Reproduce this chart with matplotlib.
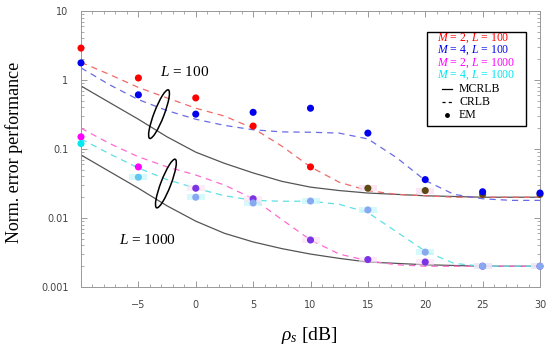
#!/usr/bin/env python3
"""
Normalized error performance vs SNR: EM points against MCRLB / CRLB curves.
"""

import matplotlib
matplotlib.use("Agg")
import matplotlib.pyplot as plt
from matplotlib.patches import Ellipse, Rectangle
from matplotlib.ticker import FixedLocator, MultipleLocator, NullFormatter
from matplotlib.transforms import ScaledTranslation

# ---- data -----------------------------------------------------------------
snr_pts = [-10, -5, 0, 5, 10, 15, 20, 25, 30]
em_m2_l100 = [2.9, 1.07, 0.55, 0.215, 0.055, 0.027, 0.025, 0.022, 0.022]
em_m4_l100 = [1.77, 0.61, 0.32, 0.34, 0.39, 0.17, 0.036, 0.024, 0.023]
em_m2_l1000 = [0.15, 0.055, 0.027, 0.019, 0.0048, 0.0025, 0.0023, 0.0020, 0.0020]
em_m4_l1000 = [0.12, 0.039, 0.020, 0.0165, 0.0176, 0.0131, 0.0032, 0.0020, 0.0020]

snr_curve = [-10, -7.5, -5, -2.5, 0, 2.5, 5, 7.5, 10, 12.5, 15, 17.5, 20, 22.5, 25, 27.5, 30]
crlb_m2_l100 = [1.8, 1.2, 0.78, 0.55, 0.39, 0.3, 0.2, 0.11, 0.055, 0.033, 0.025,
                0.022, 0.021, 0.020, 0.020, 0.020, 0.020]
crlb_m4_l100 = [1.5, 0.85, 0.52, 0.36, 0.27, 0.22, 0.19, 0.177, 0.175, 0.17, 0.14,
                0.075, 0.035, 0.022, 0.019, 0.018, 0.018]
crlb_m2_l1000 = [0.2, 0.12, 0.077, 0.055, 0.042, 0.03, 0.019, 0.0095, 0.0048, 0.003,
                 0.0024, 0.0021, 0.0020, 0.0020, 0.0020, 0.0020, 0.0020]
crlb_m4_l1000 = [0.14, 0.085, 0.053, 0.036, 0.027, 0.021, 0.018, 0.0175, 0.0175, 0.0158,
                 0.012, 0.0063, 0.0033, 0.0022, 0.0020, 0.0020, 0.0020]
mcrlb_l100 = [0.82, 0.47, 0.27, 0.15, 0.09, 0.062, 0.045, 0.034, 0.028, 0.025, 0.023,
              0.022, 0.021, 0.0205, 0.020, 0.020, 0.020]
mcrlb_l1000 = [0.082, 0.047, 0.027, 0.015, 0.009, 0.006, 0.0045, 0.0036, 0.003, 0.0026,
               0.0023, 0.0022, 0.0021, 0.00205, 0.0020, 0.0020, 0.0020]

y_ticks = [10, 1, 0.1, 0.01, 0.001]
y_tick_labels = ["10", "1", "0.1", "0.01", "0.001"]
x_ticks = [-5, 0, 5, 10, 15, 20, 25, 30]

legend_rows = ["$M$ = 2, $L$ = 100", "$M$ = 4, $L$ = 100",
               "$M$ = 2, $L$ = 1000", "$M$ = 4, $L$ = 1000"]

# ---- styles ---------------------------------------------------------------
SERIF = "Liberation Serif"
plt.rcParams["mathtext.fontset"] = "custom"
plt.rcParams["mathtext.it"] = "Liberation Serif:italic"
plt.rcParams["mathtext.rm"] = "Liberation Serif"

red, blue, mag, cyan = "#ff0000", "#0000ee", "#ff00ff", "#00e8f0"
pt_red = [red] * 5 + ["#5c4a12"] * 4
pt_blue = [blue] * 9
pt_mag = [mag, mag] + ["#7a34e6"] * 7
pt_cyan = [cyan, "#60c8f0"] + ["#88a8f2"] * 7

W, H = 550, 347
AX_L, AX_R, AX_T, AX_B = 81, 540, 11, 287

fig = plt.figure(figsize=(W / 100, H / 100), dpi=100)
ax = fig.add_axes([AX_L / W, 1 - AX_B / H, (AX_R - AX_L) / W, (AX_B - AX_T) / H])
ax.set_yscale("log")
ax.set_xlim(-10, 30)
ax.set_ylim(0.001, 10)

# bounds
ax.plot(snr_curve, mcrlb_l100, color="#555555", lw=0.9)
ax.plot(snr_curve, mcrlb_l1000, color="#555555", lw=0.9)
ax.plot(snr_curve, crlb_m2_l100, color="#f06a6a", lw=0.9, ls=(0, (5, 4)))
ax.plot(snr_curve, crlb_m4_l100, color="#6a6ae6", lw=0.9, ls=(0, (5, 4)))
ax.plot(snr_curve, crlb_m2_l1000, color="#ff6ad0", lw=0.9, ls=(0, (5, 4)))
ax.plot(snr_curve, crlb_m4_l1000, color="#5ee0e6", lw=0.9, ls=(0, (5, 4)))

# faint shaded boxes behind some points
box = [(-1.6, -0.5), (1.6, -0.5), (1.6, 0.5), (-1.6, 0.5)]
ax.scatter(snr_pts[1:], em_m4_l1000[1:], marker=box, s=180, color="#ccf8fa",
           alpha=0.8, lw=0, zorder=2)
ax.scatter(snr_pts[2:], em_m2_l1000[2:], marker=box, s=150, color="#fbe0f4",
           alpha=0.6, lw=0, zorder=2)
ax.scatter([15, 20], [em_m2_l100[5], em_m2_l100[6]], marker=box, s=180,
           color="#fbe0f4", alpha=0.8, lw=0, zorder=2)

# EM points
kw = dict(s=26, lw=0, zorder=4, clip_on=False)
ax.scatter(snr_pts, em_m2_l100, c=pt_red, **kw)
ax.scatter(snr_pts, em_m4_l100, c=pt_blue, **kw)
ax.scatter(snr_pts, em_m2_l1000, c=pt_mag, **kw)
ax.scatter(snr_pts, em_m4_l1000, c=pt_cyan, **kw)

# group ellipses and labels
for cx, cy in [(-3.2, 0.32), (-2.6, 0.0316)]:
    tr = fig.dpi_scale_trans + ScaledTranslation(cx, cy, ax.transData)
    ax.add_patch(Ellipse((0, 0), 0.52, 0.10, angle=69, transform=tr,
                         fill=False, ec="black", lw=1.1, zorder=5))
ax.text(-0.96, 1.3, "$L$ = 100", fontsize=11, family=SERIF, ha="center", va="center")
ax.text(-4.2, 0.0048, "$L$ = 1000", fontsize=11, family=SERIF, ha="center", va="center")

# axes cosmetics
ax.yaxis.set_major_locator(FixedLocator(y_ticks))
ax.set_yticklabels(y_tick_labels)
ax.yaxis.set_minor_formatter(NullFormatter())
ax.xaxis.set_major_locator(FixedLocator(x_ticks))
ax.xaxis.set_minor_locator(MultipleLocator(1))
ax.tick_params(which="both", direction="in", top=True, right=True,
               colors="#888888", labelcolor="#444444", labelsize=7)
ax.tick_params(which="major", length=4, width=0.6)
ax.tick_params(which="minor", length=2, width=0.5)
ax.tick_params(axis="x", pad=9)
ax.tick_params(axis="y", pad=9)
for sp in ax.spines.values():
    sp.set_color("#999999")
    sp.set_linewidth(0.7)

fig.text(14 / W, 1 - 152 / H, "Norm. error performance", fontsize=13, family=SERIF,
         rotation=90, ha="center", va="center")
fig.text(309 / W, 1 - 336 / H, r"$\rho_s$ [dB]", fontsize=14, family=SERIF,
         ha="center", va="center")


# legend box drawn by hand, in pixel positions of the figure
def px(x, y):
    return x / W, 1 - y / H


lx0, ly0, lx1, ly1 = 427, 32, 526, 126
bx, by = px(lx0, ly1)
fig.add_artist(Rectangle((bx, by), (lx1 - lx0) / W, (ly1 - ly0) / H,
                         transform=fig.transFigure, fc="white", ec="black", lw=1.0,
                         zorder=6))
row_y = [38, 50.5, 63, 75.5, 88.5, 102, 115]
for txt, col, yy in zip(legend_rows, [red, blue, mag, cyan], row_y):
    fig.text(*px(437, yy), txt, color=col, fontsize=8.5, family=SERIF,
             va="center", ha="left", zorder=7)
for name, ls, yy in zip(["MCRLB", "CRLB"], ["-", (0, (2.5, 2.5))], row_y[4:6]):
    fig.add_artist(plt.Line2D([442 / W, 452 / W], [px(0, yy)[1]] * 2, color="black",
                              lw=0.9, ls=ls, transform=fig.transFigure, zorder=7))
    fig.text(*px(459, yy), name, fontsize=8.5, family=SERIF, va="center", ha="left",
             zorder=7)
fig.add_artist(plt.Line2D([447 / W], [px(0, row_y[6])[1]], marker="o", ms=2.5,
                          color="black", transform=fig.transFigure, zorder=7))
fig.text(*px(459, row_y[6]), "EM", fontsize=8.5, family=SERIF, va="center", ha="left",
         zorder=7)

fig.savefig("out.png", dpi=100)
